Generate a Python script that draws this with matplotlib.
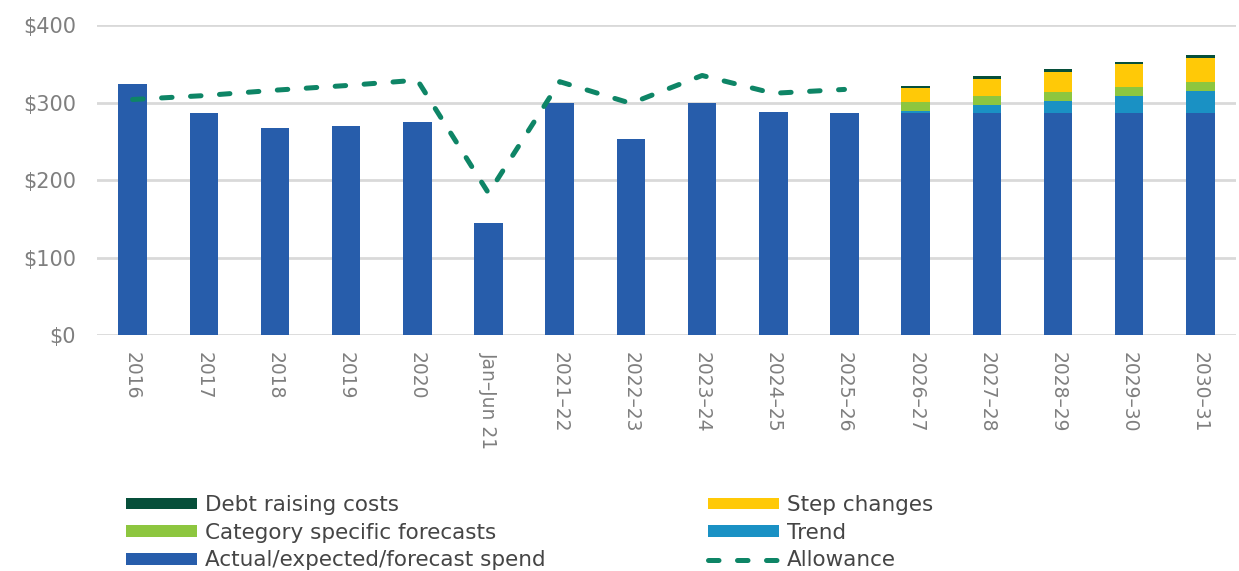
import matplotlib.pyplot as plt
import numpy as np

plt.rcParams['font.family'] = ['DejaVu Sans']

periods = ['2016', '2017', '2018', '2019', '2020', 'Jan\u2013Jun 21', '2021\u201322', '2022\u201323',
           '2023\u201324', '2024\u201325', '2025\u201326', '2026\u201327', '2027\u201328', '2028\u201329',
           '2029\u201330', '2030\u201331']

# $m
spend = [324, 286, 267, 270, 275, 144, 300, 253, 300, 288, 286, 286, 286, 286, 286, 286]
trend = [0, 0, 0, 0, 0, 0, 0, 0, 0, 0, 0, 3, 11, 16, 23, 29]
category = [0, 0, 0, 0, 0, 0, 0, 0, 0, 0, 0, 12, 11, 12, 11, 11]
step = [0, 0, 0, 0, 0, 0, 0, 0, 0, 0, 0, 18, 23, 26, 30, 31]
debt = [0, 0, 0, 0, 0, 0, 0, 0, 0, 0, 0, 3, 3, 4, 3, 4]
allowance = [304, 309, 316, 322, 329, 183, 327, 299, 335, 312, 317]

c_spend = '#275dab'
c_trend = '#1a91c4'
c_cat = '#8dc63f'
c_step = '#ffc907'
c_debt = '#064f3a'
c_allow = '#0e8566'

fig = plt.figure(figsize=(12.39, 5.71), dpi=100)
ax = fig.add_axes([0.0783, 0.4133, 0.9193, 0.5427])

x = np.arange(len(periods))
w = 0.4
b_spend = ax.bar(x, spend, w, color=c_spend, zorder=2)
bottom = np.array(spend, dtype=float)
b_trend = ax.bar(x, trend, w, bottom=bottom, color=c_trend, zorder=2)
bottom += trend
b_cat = ax.bar(x, category, w, bottom=bottom, color=c_cat, zorder=2)
bottom += category
b_step = ax.bar(x, step, w, bottom=bottom, color=c_step, zorder=2)
bottom += step
b_debt = ax.bar(x, debt, w, bottom=bottom, color=c_debt, zorder=2)

line, = ax.plot(x[:len(allowance)], allowance, color=c_allow, lw=3.6,
                dashes=(2.1, 3.7), dash_capstyle='round', zorder=3)

ax.set_xlim(-0.5, len(periods) - 0.5)
ax.set_ylim(0, 400)
ax.set_yticks([0, 100, 200, 300, 400])
ax.set_yticklabels(['$0', '$100', '$200', '$300', '$400'])
ax.set_xticks(x)
ax.set_xticklabels(periods, rotation=-90)
ax.tick_params(axis='y', length=0, pad=15, labelsize=15, labelcolor='#7f7f7f')
ax.tick_params(axis='x', length=0, pad=12, labelsize=13.5, labelcolor='#7f7f7f')
ax.grid(axis='y', color='#d9d9d9', lw=2, zorder=0)
for s in ax.spines.values():
    s.set_visible(False)

leg_kw = dict(loc='upper left', frameon=False, fontsize=15.5, handlelength=3.3,
              handleheight=0.45, handletextpad=0.37, labelspacing=0.36,
              borderpad=0, borderaxespad=0)
leg1 = fig.legend([b_debt, b_cat, b_spend],
                  ['Debt raising costs', 'Category specific forecasts',
                   'Actual/expected/forecast spend'],
                  bbox_to_anchor=(126 / 1239, 1 - 495 / 571), **leg_kw)
leg2 = fig.legend([b_step, b_trend, line], ['Step changes', 'Trend', 'Allowance'],
                  bbox_to_anchor=(708 / 1239, 1 - 495 / 571), **leg_kw)
for leg in (leg1, leg2):
    for t in leg.get_texts():
        t.set_color('#454545')

fig.savefig('out.png', dpi=100)
